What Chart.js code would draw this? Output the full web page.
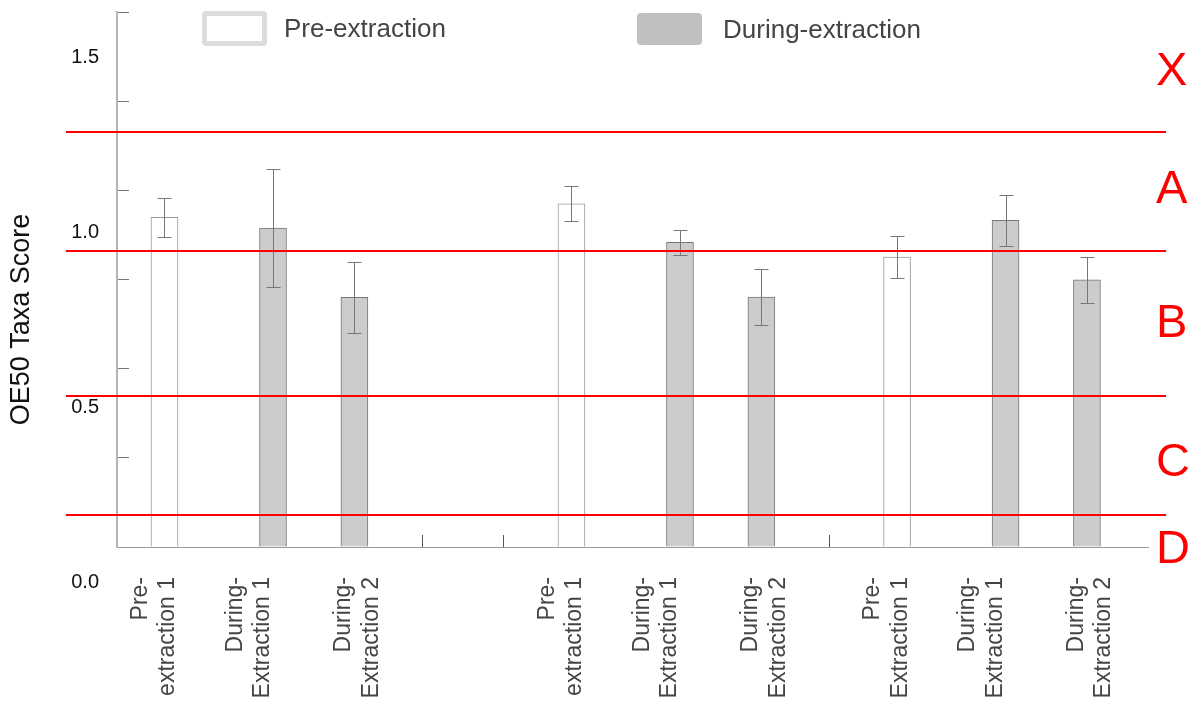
<!DOCTYPE html>
<html>
<head>
<meta charset="utf-8">
<title>OE50 Taxa Score</title>
<script src="https://cdn.jsdelivr.net/npm/chart.js@4.4.0/dist/chart.umd.min.js"></script>
<style>
  html, body { margin: 0; padding: 0; background: #fff; }
  #wrap { position: relative; width: 1195px; height: 701px; }
  #legend .item { position: absolute; display: flex; align-items: center; }
  #legend .swatch { width: 65px; box-sizing: border-box; border-radius: 4px; }
  #legend .label { font: 26px "Liberation Sans", Arial, sans-serif; color: #444; }
</style>
</head>
<body>
<div id="wrap">
  <canvas id="oe50" width="1195" height="701"></canvas>
  <div id="legend"></div>
</div>
<script>
// bars, left to right
const categories = [
  ['Pre-', 'extraction 1'], ['During-', 'Extraction 1'], ['During-', 'Extraction 2'],
  ['Pre-', 'extraction 1'], ['During-', 'Extraction 1'], ['During-', 'Extraction 2'],
  ['Pre-', 'Extraction 1'], ['During-', 'Extraction 1'], ['During-', 'Extraction 2']
];
const series = ['Pre-extraction', 'During-extraction'];
const phase = [0, 1, 1, 0, 1, 1, 0, 1, 1];
const scores = [0.924, 0.894, 0.700, 0.962, 0.854, 0.701, 0.813, 0.916, 0.749];
const errors = [0.055, 0.165, 0.100, 0.049, 0.036, 0.078, 0.058, 0.071, 0.065];

const yTickValues = [0.0, 0.5, 1.0, 1.5];
const bandLimits = [1.164, 0.830, 0.423, 0.090];
const bandNames = ['X', 'A', 'B', 'C', 'D'];
const bandLabelAt = [1.332, 1.0, 0.625, 0.235, -0.008];

// layout of the x axis: narrow slots, bars and labels sit on some of them
const SLOTS = 76;
const barSlot = [3, 11, 17, 33, 41, 47, 57, 65, 71];
const labelSlot = [1, 8, 16, 31, 38, 46, 55, 62, 70];
const markSlot = [22, 28, 52];

const FONT = '"Liberation Sans", Arial, sans-serif';
Chart.defaults.font.family = FONT;

const xLabels = Array(SLOTS).fill('');
labelSlot.forEach((s, i) => { xLabels[s] = categories[i]; });

const seriesData = series.map((name, k) => {
  const d = Array(SLOTS).fill(null);
  scores.forEach((v, i) => { if (phase[i] === k) d[barSlot[i]] = v; });
  return d;
});

// legend
const swatchStyle = [
  { left: 202, top: 11, height: 35, bg: '#fff', border: '5px solid #dcdcdc', gap: 17 },
  { left: 637, top: 13, height: 32, bg: '#c0c0c0', border: 'none', gap: 21 }
];
const legendEl = document.getElementById('legend');
series.forEach((name, k) => {
  const s = swatchStyle[k];
  const item = document.createElement('div');
  item.className = 'item';
  item.style.left = s.left + 'px';
  item.style.top = s.top + 'px';
  item.innerHTML = '<div class="swatch" style="height:' + s.height + 'px;background:' + s.bg +
    ';border:' + s.border + ';margin-right:' + s.gap + 'px"></div><span class="label">' + name + '</span>';
  legendEl.appendChild(item);
});

// keep tick labels from pushing the plot area around
const noPad = s => { s.paddingTop = 0; s.paddingBottom = 0; s.paddingLeft = 0; s.paddingRight = 0; };

const errorBars = {
  id: 'errorBars',
  afterDatasetsDraw(chart) {
    const ctx = chart.ctx;
    const y = chart.scales.y;
    ctx.save();
    ctx.strokeStyle = '#777';
    ctx.lineWidth = 1;
    scores.forEach((v, i) => {
      const bar = chart.getDatasetMeta(phase[i]).data[barSlot[i]];
      const x = Math.round(bar.x) + 0.5;
      const top = Math.round(y.getPixelForValue(v + errors[i])) + 0.5;
      const bot = Math.round(y.getPixelForValue(v - errors[i])) + 0.5;
      ctx.beginPath();
      ctx.moveTo(x, top); ctx.lineTo(x, bot);
      ctx.moveTo(x - 7, top); ctx.lineTo(x + 7, top);
      ctx.moveTo(x - 7, bot); ctx.lineTo(x + 7, bot);
      ctx.stroke();
    });
    ctx.restore();
  }
};

const bandLines = {
  id: 'bandLines',
  afterDraw(chart) {
    const { ctx, chartArea } = chart;
    const y = chart.scales.y;
    ctx.save();
    ctx.strokeStyle = '#ff0000';
    ctx.lineWidth = 2;
    bandLimits.forEach(v => {
      const py = Math.round(y.getPixelForValue(v));
      ctx.beginPath();
      ctx.moveTo(chartArea.left - 51, py);
      ctx.lineTo(chartArea.right + 18, py);
      ctx.stroke();
    });
    ctx.restore();
  }
};

const yTitle = {
  id: 'yTitle',
  afterDraw(chart) {
    const ctx = chart.ctx;
    const yl = chart.scales.yl;
    const mid = (yl.getPixelForValue(yTickValues[0]) + yl.getPixelForValue(yTickValues[yTickValues.length - 1])) / 2;
    ctx.save();
    ctx.translate(yl.left + 22, mid);
    ctx.rotate(-Math.PI / 2);
    ctx.textAlign = 'center';
    ctx.textBaseline = 'middle';
    ctx.fillStyle = '#111';
    ctx.font = '27px ' + FONT;
    ctx.fillText('OE50 Taxa Score', 0, 0);
    ctx.restore();
  }
};

new Chart('oe50', {
  type: 'bar',
  data: {
    labels: xLabels,
    datasets: [{
      label: series[0],
      data: seriesData[0],
      backgroundColor: '#ffffff',
      borderColor: '#999999',
      borderWidth: 1,
      grouped: false,
      barThickness: 27
    }, {
      label: series[1],
      data: seriesData[1],
      backgroundColor: '#cccccc',
      borderColor: '#777777',
      borderWidth: 1,
      grouped: false,
      barThickness: 27
    }]
  },
  options: {
    responsive: false,
    animation: false,
    layout: { padding: { top: 12, left: 0, right: 0, bottom: 0 } },
    plugins: {
      legend: { display: false },
      tooltip: { enabled: false }
    },
    scales: {
      x: {
        type: 'category',
        offset: true,
        grid: {
          offset: false,
          drawOnChartArea: false,
          tickLength: -12,
          lineWidth: 1,
          color: c => markSlot.includes(c.index) ? '#555' : 'rgba(0,0,0,0)'
        },
        border: { color: '#999', width: 1 },
        ticks: {
          autoSkip: false,
          minRotation: 90,
          maxRotation: 90,
          padding: 42,
          labelOffset: 3,
          color: '#444',
          font: { size: 23 }
        },
        afterFit: s => { s.height = 154; noPad(s); }
      },
      y: {
        type: 'linear',
        position: 'left',
        weight: 0,
        min: 0,
        max: 1.5,
        ticks: { display: false, stepSize: 0.25 },
        grid: { drawOnChartArea: false, tickLength: -12, color: '#777' },
        border: { color: '#b5b5b5', width: 2 },
        afterFit: s => { s.width = 0; noPad(s); }
      },
      yl: {
        type: 'linear',
        position: 'left',
        weight: 1,
        min: 0.1,
        max: 1.6286,
        afterBuildTicks: s => { s.ticks = yTickValues.map(v => ({ value: v })); },
        ticks: {
          autoSkip: false,
          padding: 18,
          color: '#111',
          font: { size: 20 },
          callback: v => v.toFixed(1)
        },
        grid: { display: false, drawTicks: false },
        border: { display: false },
        afterFit: s => { s.width = 117; noPad(s); }
      },
      yr: {
        type: 'linear',
        position: 'right',
        min: 0,
        max: 1.5,
        afterBuildTicks: s => { s.ticks = bandLabelAt.map(v => ({ value: v })); },
        ticks: {
          autoSkip: false,
          padding: 8,
          color: '#ff0000',
          font: { size: 47 },
          callback: (v, i) => bandNames[i]
        },
        grid: { display: false, drawTicks: false },
        border: { display: false },
        afterFit: s => { s.width = 47; noPad(s); }
      }
    }
  },
  plugins: [errorBars, bandLines, yTitle]
});
</script>
</body>
</html>
